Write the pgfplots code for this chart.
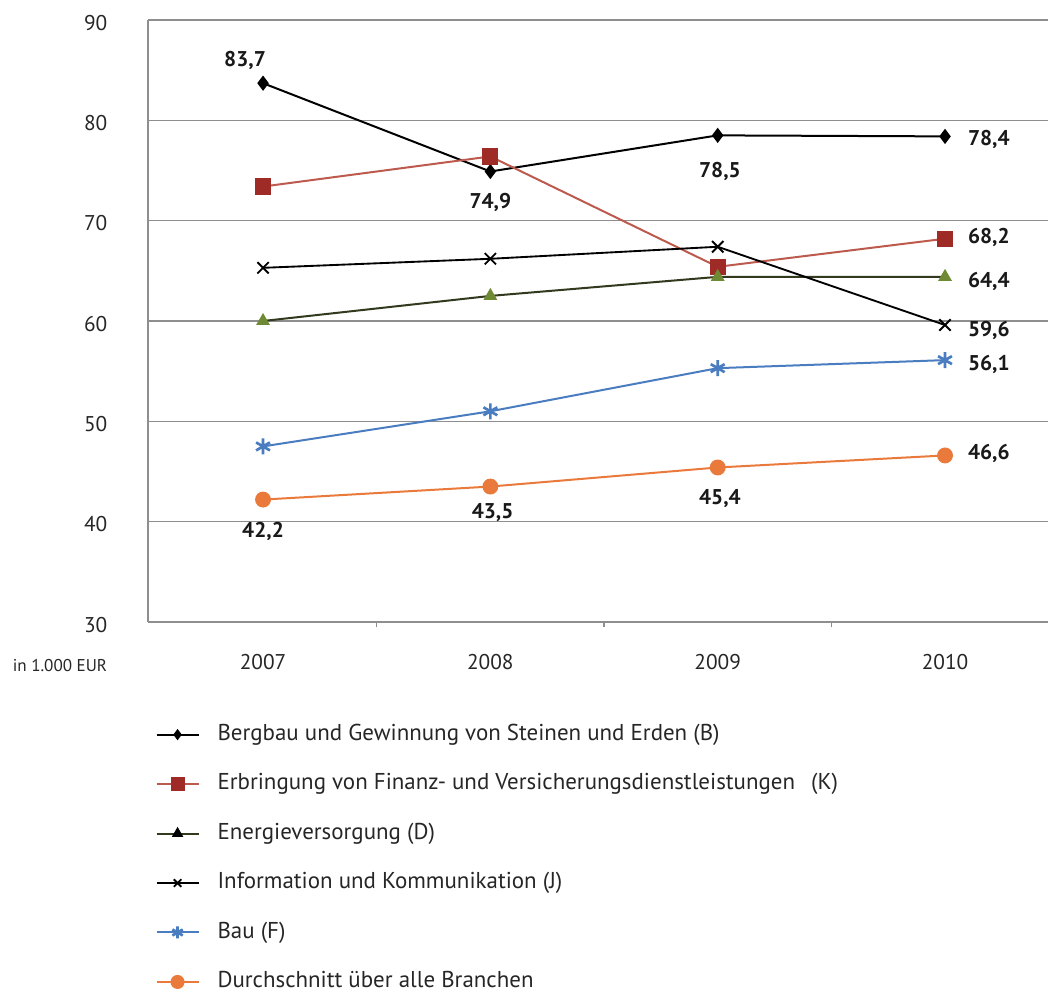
\documentclass[border=0pt]{standalone}
\usepackage{fontspec}
\setmainfont{PT Sans}
\usepackage{pgfplots}
\pgfplotsset{compat=1.18}

\definecolor{gridgray}{HTML}{8E8E8E}
\definecolor{kline}{HTML}{BC5A4E}
\definecolor{kmark}{HTML}{9E2B25}
\definecolor{dline}{HTML}{323A1E}
\definecolor{dmark}{HTML}{6F8A34}
\definecolor{fblue}{HTML}{4A7DC0}
\definecolor{avgorange}{HTML}{EA7A3C}

\begin{document}
\begin{tikzpicture}
% page size: 786pt x 748.5pt (1px = 0.75pt)
\path[use as bounding box] (0,0) rectangle (786pt,748.5pt);
\begin{axis}[
  at={(111pt,282pt)}, anchor=south west,
  scale only axis, width=675pt, height=451.5pt,
  xmin=-0.506, xmax=3.453, ymin=30, ymax=90,
  axis lines*=left,
  axis line style={gridgray, line width=1.1pt},
  ytick={30,40,...,90},
  ymajorgrids,
  grid style={gridgray, line width=1.1pt},
  xtick={0,1,2,3},
  xticklabels={2007,2008,2009,2010},
  minor xtick={0.5,1.5,2.5},
  major tick length=0pt,
  minor tick length=4pt,
  tick align=outside,
  minor tick style={gridgray, line width=1pt},
  /pgf/number format/assume math mode=true,
  tick label style={font=\fontsize{16}{19}\selectfont, text=black!85},
  yticklabel style={xshift=-27pt, yshift=-2pt},
  xticklabel style={yshift=-21pt},
  clip=false,
  legend cell align=left,
  legend style={
    draw=none, fill=none,
    at={(0.0084,-0.171)}, anchor=north west,
    inner sep=0pt, outer sep=0pt,
    font=\fontsize{17.2}{20}\selectfont,
    text=black!85,
    row sep=22.6pt, column sep=13.5pt,
    nodes={inner sep=0pt, text height=11.5pt, text depth=3pt},
  },
  legend image code/.code={
    \draw[mark repeat=2, mark phase=2]
      plot coordinates {(0pt,0pt) (15.75pt,0pt) (31.5pt,0pt)};
  },
]

% Bergbau und Gewinnung von Steinen und Erden (B)
\addplot[black, line width=1.5pt, mark=diamond*, mark size=4.5pt,
  mark options={solid, fill=black},
  legend image post style={mark size=3pt}]
  coordinates {(0,83.7) (1,74.9) (2,78.5) (3,78.4)};
\addlegendentry{Bergbau und Gewinnung von Steinen und Erden (B)}

% Erbringung von Finanz- und Versicherungsdienstleistungen (K)
\addplot[kline, line width=1.5pt, mark=square*, mark size=5.3pt,
  mark options={solid, fill=kmark, draw=kmark},
  legend image post style={mark size=4.5pt}]
  coordinates {(0,73.4) (1,76.4) (2,65.4) (3,68.2)};
\addlegendentry{Erbringung von Finanz- und Versicherungsdienstleistungen\hspace{0.7em}(K)}

% Energieversorgung (D)
\addplot[dline, line width=1.5pt, mark=triangle*, mark size=4.5pt,
  mark options={solid, fill=dmark, draw=dmark},
  legend image post style={mark size=3.5pt, mark options={fill=black, draw=black}}]
  coordinates {(0,60.0) (1,62.5) (2,64.4) (3,64.4)};
\addlegendentry{Energieversorgung (D)}

% Information und Kommunikation (J)
\addplot[black, line width=1.4pt, mark=x, mark size=6pt,
  mark options={solid, line width=1.4pt},
  legend image post style={mark size=4pt}]
  coordinates {(0,65.3) (1,66.2) (2,67.4) (3,59.6)};
\addlegendentry{Information und Kommunikation (J)}

% Bau (F)
\addplot[fblue, line width=1.5pt, mark=asterisk, mark size=6pt,
  mark options={solid, line width=2pt},
  legend image post style={mark size=4.5pt}]
  coordinates {(0,47.5) (1,51.0) (2,55.3) (3,56.1)};
\addlegendentry{Bau (F)}

% Durchschnitt über alle Branchen
\addplot[avgorange, line width=1.5pt, mark=*, mark size=5.2pt,
  mark options={solid, fill=avgorange, draw=avgorange},
  legend image post style={mark size=4.5pt}]
  coordinates {(0,42.2) (1,43.5) (2,45.4) (3,46.6)};
\addlegendentry{Durchschnitt über alle Branchen}

% value labels
\begin{scope}[every node/.style={font=\bfseries\fontsize{16}{19}\selectfont, text=black!90, inner sep=0pt}]
  \node at (axis cs:-0.079,86.0) {83,7};
  \node at (axis cs:1.0,71.8) {74,9};
  \node at (axis cs:2.01,74.9) {78,5};
  \node[anchor=west] at (axis cs:3.10,78.06) {78,4};
  \node[anchor=west] at (axis cs:3.10,68.34) {68,2};
  \node[anchor=west] at (axis cs:3.10,63.93) {64,4};
  \node[anchor=west] at (axis cs:3.10,59.03) {59,6};
  \node[anchor=west] at (axis cs:3.10,55.62) {56,1};
  \node[anchor=west] at (axis cs:3.10,46.75) {46,6};
  \node at (axis cs:2.01,42.26) {45,4};
  \node at (axis cs:0.0,39.0) {42,2};
  \node at (axis cs:1.01,40.87) {43,5};
\end{scope}
\end{axis}
\node[anchor=west, inner sep=0pt, font=\fontsize{12.8}{15}\selectfont, text=black!85]
  at (9.4pt,249.5pt) {in 1.000 EUR};
\end{tikzpicture}
\end{document}
